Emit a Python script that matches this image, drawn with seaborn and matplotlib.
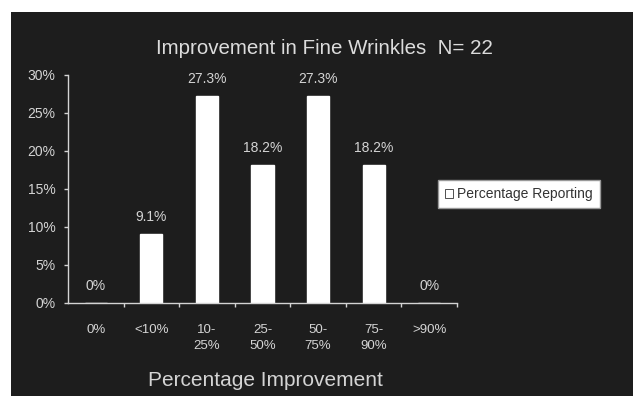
import matplotlib
matplotlib.use("Agg")
import matplotlib.pyplot as plt
from matplotlib.patches import Rectangle
import seaborn as sns
import pandas as pd

categories = ["0%", "<10%", "10-\n25%", "25-\n50%", "50-\n75%", "75-\n90%", ">90%"]
percent_reporting = [0, 9.1, 27.3, 18.2, 27.3, 18.2, 0]
value_labels = ["0%", "9.1%", "27.3%", "18.2%", "27.3%", "18.2%", "0%"]
y_ticks = [0, 5, 10, 15, 20, 25, 30]
y_tick_labels = ["0%", "5%", "10%", "15%", "20%", "25%", "30%"]

sns.set_style("dark")
plt.rcParams["font.family"] = ["Liberation Sans", "DejaVu Sans"]

bg = "#1d1d1d"
fg = "#d4d4d4"

df = pd.DataFrame({"category": categories, "pct": percent_reporting})

fig = plt.figure(figsize=(6.37, 3.96), dpi=100)
fig.patch.set_facecolor("white")
fig.patches.append(Rectangle((11 / 637, 0), 622 / 637, 1 - 12 / 396,
                             transform=fig.transFigure, facecolor=bg,
                             edgecolor="none", zorder=-5))

ax = fig.add_axes([68 / 637, 1 - 303 / 396, 389 / 637, 228 / 396])
ax.set_zorder(2)
ax.set_facecolor("none")
sns.barplot(data=df, x="category", y="pct", color="white", width=0.4,
            saturation=1, ax=ax, label="Percentage Reporting")

ax.set_xlim(-0.5, 6.5)
ax.set_ylim(0, 30)
ax.set_yticks(y_ticks)
ax.set_yticklabels(y_tick_labels, fontsize=10, color=fg)
ax.set_xticks(range(len(categories)))
ax.set_xticklabels(categories, fontsize=9.5, color=fg, linespacing=1.45)
ax.set_xticks([i + 0.5 for i in range(len(categories))], minor=True)
ax.tick_params(axis="x", which="major", length=0, pad=15, bottom=True)
ax.tick_params(axis="x", which="minor", length=3, width=1, color=fg,
               direction="out", bottom=True)
ax.tick_params(axis="y", length=3, width=1, color=fg, direction="out",
               left=True, pad=6)
ax.grid(False)

for side in ["top", "right"]:
    ax.spines[side].set_visible(False)
for side in ["left", "bottom"]:
    ax.spines[side].set_visible(True)
    ax.spines[side].set_color(fg)
    ax.spines[side].set_linewidth(1.0)

for i, (v, lab) in enumerate(zip(percent_reporting, value_labels)):
    ax.annotate(lab, (i, v), xytext=(0, 7),
                textcoords="offset points", ha="center", va="bottom",
                fontsize=10, color=fg)

ax.set_xlabel("")
ax.set_ylabel("")
fig.text(265 / 637, 1 - 380 / 396, "Percentage Improvement", ha="center",
         va="center", fontsize=15, color=fg)
fig.text(324 / 637, 1 - 49 / 396, "Improvement in Fine Wrinkles  N= 22",
         ha="center", va="center", fontsize=14.8, color="#dcdcdc")

leg = ax.legend(loc="center", bbox_to_anchor=(519 / 637, 1 - 194 / 396),
                bbox_transform=fig.transFigure, fontsize=10, frameon=True,
                fancybox=False, framealpha=1, handlelength=0.6,
                handleheight=0.6, handletextpad=0.3, borderpad=0.5,
                borderaxespad=0)
leg.get_frame().set_facecolor("white")
leg.get_frame().set_edgecolor("#999999")
for h in leg.legend_handles:
    h.set_edgecolor("#333333")
    h.set_linewidth(0.6)
for t in leg.get_texts():
    t.set_color("#333333")

fig.savefig("out.png", dpi=100, facecolor=fig.get_facecolor())
